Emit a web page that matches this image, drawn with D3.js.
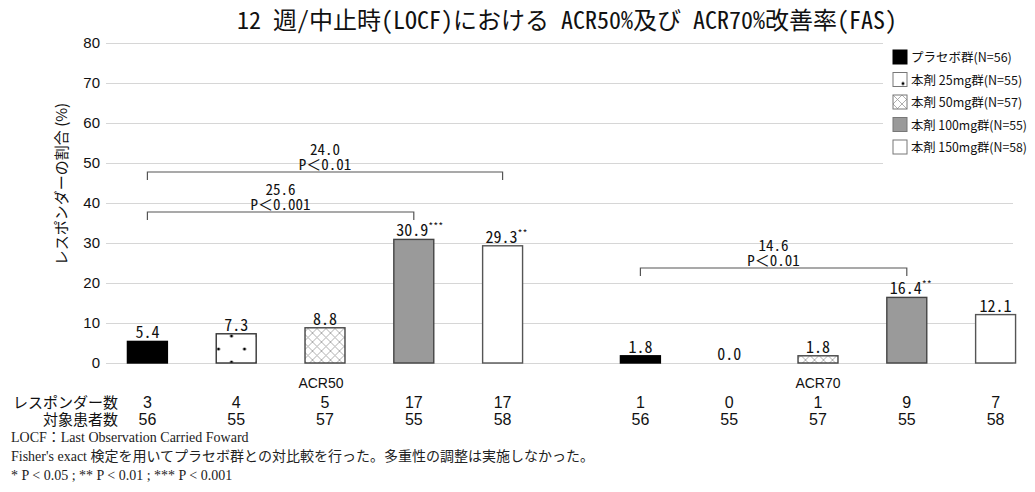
<!DOCTYPE html>
<html><head><meta charset="utf-8">
<script src="https://cdn.jsdelivr.net/npm/d3@7/dist/d3.min.js"></script>
<style>
body{margin:0;background:#fff;}
svg{display:block;}
</style></head>
<body>
<svg id="chart" width="1035" height="492"></svg>
<script>
// ---- data ----
const categories = ["ACR50", "ACR70"];
const groups = ["プラセボ群(N=56)", "本剤 25mg群(N=55)", "本剤 50mg群(N=57)", "本剤 100mg群(N=55)", "本剤 150mg群(N=58)"];
const acr50Values = [5.4, 7.3, 8.8, 30.9, 29.3];
const acr70Values = [1.8, 0.0, 1.8, 16.4, 12.1];
const acr50Stars = ["", "", "", "***", "**"];
const acr70Stars = ["", "", "", "**", ""];
const acr50Responders = [3, 4, 5, 17, 17];
const acr70Responders = [1, 0, 1, 9, 7];
const patientCounts = [56, 55, 57, 55, 58];
const yTicks = [0, 10, 20, 30, 40, 50, 60, 70, 80];
const comparisons = [
  {cat: "ACR50", from: 0, to: 4, level: 47.75, diff: "24.0", p: "P＜0.01"},
  {cat: "ACR50", from: 0, to: 3, level: 37.75, diff: "25.6", p: "P＜0.001"},
  {cat: "ACR70", from: 0, to: 3, level: 23.75, diff: "14.6", p: "P＜0.01"}
];
const title = "12 週/中止時(LOCF)における ACR50%及び ACR70%改善率(FAS)";
const yLabel = "レスポンダーの割合 (%)";
const rowLabels = ["レスポンダー数", "対象患者数"];
const footnotes = [
  "LOCF：Last Observation Carried Foward",
  "Fisher's exact 検定を用いてプラセボ群との対比較を行った。多重性の調整は実施しなかった。",
  "* P < 0.05 ; ** P < 0.01 ; *** P < 0.001"
];

// ---- styles ----
const MONO = "'Noto Sans Mono CJK JP','MS Gothic','Liberation Mono',monospace";
const NARROW = "'Liberation Sans Narrow','Arial Narrow','Liberation Sans','Noto Sans CJK JP',sans-serif";
const GOTHIC = "'Noto Sans CJK JP',sans-serif";
const SERIF = "'Liberation Serif','Noto Sans CJK JP',serif";
const fills = ["#000000", "url(#dots)", "url(#cross)", "#9a9a9a", "#ffffff"];
const strokes = ["#000000", "#333333", "#444444", "#444444", "#555555"];

const svg = d3.select("#chart");
const plotL = 110, plotR = 1013;

const y = d3.scaleLinear().domain([0, 80]).range([363, 43]);
const x0 = d3.scaleBand().domain(categories).range([78.5, 1064.5]);
const x1 = d3.scaleBand().domain(d3.range(groups.length)).range([0, x0.bandwidth()])
  .paddingInner(0.55).paddingOuter(0.551);

// patterns
const defs = svg.append("defs");
const pd = defs.append("pattern").attr("id", "dots").attr("patternUnits", "userSpaceOnUse")
  .attr("width", 26).attr("height", 26);
pd.append("rect").attr("width", 26).attr("height", 26).attr("fill", "#fff");
pd.append("circle").attr("cx", 10).attr("cy", 11).attr("r", 1.5).attr("fill", "#000");
pd.append("circle").attr("cx", 23).attr("cy", 24).attr("r", 1.5).attr("fill", "#000");
const pc = defs.append("pattern").attr("id", "cross").attr("patternUnits", "userSpaceOnUse")
  .attr("width", 9).attr("height", 9);
pc.append("rect").attr("width", 9).attr("height", 9).attr("fill", "#fff");
pc.append("path").attr("d", "M0,0L9,9M9,0L0,9M-1,8L1,10M8,-1L10,1").attr("stroke", "#9a9a9a").attr("stroke-width", 0.8);

// title
svg.append("text").attr("x", 567).attr("y", 29).attr("text-anchor", "middle")
  .attr("font-family", MONO).attr("font-size", 24).attr("fill", "#111").text(title);

// grid + axis
const yAxis = d3.axisLeft(y).tickValues(yTicks).tickSize(-(plotR - plotL + 4)).tickPadding(6);
const ga = svg.append("g").attr("transform", `translate(${plotL - 4},0)`).call(yAxis);
ga.select(".domain").remove();
ga.selectAll(".tick line").attr("stroke", "#d6d6d6").attr("stroke-width", 1.2);
ga.selectAll(".tick text").attr("font-family", NARROW).attr("font-size", 15).attr("fill", "#111");

// y label
svg.append("text").attr("transform", "translate(67,184) rotate(-90)").attr("text-anchor", "middle")
  .attr("font-family", GOTHIC).attr("font-size", 15).attr("fill", "#111").text(yLabel);

// bars
const dataset = categories.map((c, ci) => ({
  cat: c,
  values: (ci === 0 ? acr50Values : acr70Values),
  stars: (ci === 0 ? acr50Stars : acr70Stars),
  resp: (ci === 0 ? acr50Responders : acr70Responders)
}));

const gCat = svg.selectAll(".cat").data(dataset).join("g")
  .attr("class", "cat").attr("transform", d => `translate(${x0(d.cat)},0)`);

gCat.selectAll("rect.bar").data(d => d.values.map((v, i) => ({v, i, s: d.stars[i]})))
  .join("rect").attr("class", "bar")
  .attr("x", d => x1(d.i)).attr("width", x1.bandwidth())
  .attr("y", d => y(d.v)).attr("height", d => y(0) - y(d.v))
  .attr("fill", d => fills[d.i]).attr("stroke", d => d.v > 0 ? strokes[d.i] : "none")
  .attr("stroke-width", 1.4);

const lab = gCat.selectAll("text.val").data(d => d.values.map((v, i) => ({v, i, s: d.stars[i]})))
  .join("text").attr("class", "val")
  .attr("x", d => x1(d.i) + x1.bandwidth() / 2 + (d.s ? d.s.length * 2 : 0))
  .attr("y", d => y(d.v) - 3)
  .attr("text-anchor", "middle").attr("font-family", MONO).attr("font-size", 16).attr("fill", "#111");
lab.append("tspan").text(d => d.v.toFixed(1));
lab.filter(d => d.s).append("tspan").attr("dy", -6).attr("font-size", 10).text(d => d.s);

// category labels
svg.selectAll("text.catlab").data(categories).join("text").attr("class", "catlab")
  .attr("x", d => x0(d) + x0.bandwidth() / 2 - (d === "ACR50" ? 4 : 0)).attr("y", 388)
  .attr("text-anchor", "middle").attr("font-family", NARROW).attr("font-size", 14).attr("fill", "#111").text(d => d);

// table rows
svg.selectAll("text.rowlab").data(rowLabels).join("text").attr("class", "rowlab")
  .attr("x", 118).attr("y", (d, i) => 408 + i * 17).attr("text-anchor", "end")
  .attr("font-family", GOTHIC).attr("font-size", 15).attr("fill", "#111").text(d => d);

gCat.selectAll("text.resp").data(d => d.resp.map((r, i) => ({r, i})))
  .join("text").attr("class", "resp")
  .attr("x", d => x1(d.i) + x1.bandwidth() / 2).attr("y", 408)
  .attr("text-anchor", "middle").attr("font-family", NARROW).attr("font-size", 16).attr("fill", "#111")
  .text(d => d.r);
gCat.selectAll("text.npat").data(patientCounts.map((n, i) => ({n, i})))
  .join("text").attr("class", "npat")
  .attr("x", d => x1(d.i) + x1.bandwidth() / 2).attr("y", 425)
  .attr("text-anchor", "middle").attr("font-family", NARROW).attr("font-size", 16).attr("fill", "#111")
  .text(d => d.n);

// comparison brackets
const cx = (cat, i) => x0(cat) + x1(i) + x1.bandwidth() / 2;
const gb = svg.selectAll("g.cmp").data(comparisons).join("g").attr("class", "cmp");
gb.append("path")
  .attr("d", d => {
    const a = cx(d.cat, d.from), b = cx(d.cat, d.to), yy = y(d.level);
    return `M${a},${yy + 8}V${yy}H${b}V${yy + 8}`;
  })
  .attr("fill", "none").attr("stroke", "#555").attr("stroke-width", 1.2);
const ct = gb.append("text").attr("y", d => y(d.level) - 17)
  .attr("text-anchor", "middle").attr("font-family", MONO).attr("font-size", 15).attr("fill", "#111");
ct.append("tspan").attr("x", d => (cx(d.cat, d.from) + cx(d.cat, d.to)) / 2).text(d => d.diff);
ct.append("tspan").attr("x", d => (cx(d.cat, d.from) + cx(d.cat, d.to)) / 2).attr("dy", 15).text(d => d.p);

// legend
const lg = svg.append("g");
lg.append("rect").attr("x", 883).attr("y", 38).attr("width", 152).attr("height", 132).attr("fill", "#fff");
const li = lg.selectAll("g.li").data(groups).join("g").attr("class", "li")
  .attr("transform", (d, i) => `translate(893,${50 + i * 22.5})`);
li.append("rect").attr("width", 14).attr("height", 14)
  .attr("fill", (d, i) => fills[i]).attr("stroke", (d, i) => i === 0 ? "#000" : "#777").attr("stroke-width", 1);
li.append("text").attr("x", 18).attr("y", 12).attr("font-family", GOTHIC).attr("font-size", 12.5).attr("fill", "#111")
  .text(d => d)
  .each(function () {
    const maxW = 116;
    const w = this.getComputedTextLength();
    if (w > maxW) d3.select(this).attr("textLength", maxW).attr("lengthAdjust", "spacingAndGlyphs");
  });

// footnotes
svg.selectAll("text.fn").data(footnotes).join("text").attr("class", "fn")
  .attr("x", 11).attr("y", (d, i) => 442 + i * 19)
  .attr("font-family", SERIF).attr("font-size", 14).attr("fill", "#222").text(d => d);
</script>
</body></html>
